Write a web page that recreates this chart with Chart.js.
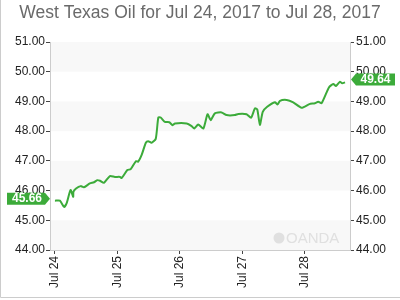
<!DOCTYPE html>
<html>
<head>
<meta charset="utf-8">
<script src="https://cdn.jsdelivr.net/npm/chart.js@4/dist/chart.umd.min.js"></script>
<style>
    html, body { margin: 0; padding: 0; background: #fff; }
    #wrap { width: 400px; height: 300px; }
</style>
</head>
<body>
<div id="wrap"><canvas id="oil-chart" width="400" height="300"></canvas></div>
<script>
const TITLE = 'West Texas Oil for Jul 24, 2017 to Jul 28, 2017';

// hours since Jul 24 00:00
const hours = [0, 1.9, 3.5, 4.5, 6.0, 7.0, 7.1, 8.1, 9.9, 11.1, 13.4, 15.0, 16.2, 17.3, 18.8,
    21.1, 23.0, 25.0, 25.6, 27.8, 29.1, 31.1, 31.9, 33.3, 34.9, 35.8, 37.1, 38.7, 39.7, 40.6,
    42.2, 43.9, 45.2, 46.1, 50.6, 52.5, 53.5, 55.0, 57.0, 58.6, 59.8, 61.4, 64.0, 65.9, 69.1,
    70.4, 73.6, 75.3, 76.8, 77.7, 78.7, 79.8, 81.5, 84.5, 85.5, 86.4, 89.0, 91.5, 94.7, 97.7,
    99.8, 101.1, 102.4, 105.2, 106.9, 107.9, 109.4, 110.3, 111.4];

const prices = [45.66, 45.66, 45.45, 45.58, 46.02, 45.79, 45.96, 46.07, 46.15, 46.11, 46.24, 46.28, 46.35, 46.33, 46.26,
    46.49, 46.46, 46.46, 46.42, 46.69, 46.72, 46.99, 46.97, 47.20, 47.61, 47.66, 47.61, 47.74, 48.46, 48.46,
    48.31, 48.30, 48.20, 48.26, 48.26, 48.17, 48.09, 48.22, 48.09, 48.57, 48.37, 48.60, 48.63, 48.54, 48.54,
    48.58, 48.57, 48.45, 48.77, 48.73, 48.21, 48.65, 48.82, 48.97, 48.90, 49.02, 49.05, 48.97, 48.79, 48.91,
    48.94, 48.99, 48.94, 49.47, 49.59, 49.52, 49.66, 49.61, 49.64];

const dayTicks = [0, 24, 48, 72, 96];
const dayLabels = ['Jul 24', 'Jul 25', 'Jul 26', 'Jul 27', 'Jul 28'];

const GREEN = '#3cab3a';
const FONT = '"Liberation Sans", Arial, sans-serif';


const decorPlugin = {
    id: 'decor',
    beforeDraw(chart) {
        const ctx = chart.ctx;
        const area = chart.chartArea;
        const y = chart.scales.y;
        ctx.save();
        // alternating bands
        ctx.fillStyle = '#f8f8f8';
        for (let v = 44; v < 51; v += 2) {
            const top = y.getPixelForValue(v + 1);
            const bot = y.getPixelForValue(v);
            ctx.fillRect(area.left, top, area.right - area.left, bot - top);
        }
        // frame
        ctx.strokeStyle = '#cccccc';
        ctx.lineWidth = 1;
        ctx.beginPath();
        ctx.moveTo(0.5, 0);
        ctx.lineTo(0.5, 297.5);
        ctx.lineTo(400, 297.5);
        ctx.stroke();
        // title
        ctx.fillStyle = '#6a6a6a';
        ctx.font = '17.5px ' + FONT;
        ctx.textAlign = 'center';
        ctx.textBaseline = 'middle';
        ctx.fillText(TITLE, 200, 13);
        // watermark
        ctx.fillStyle = '#e0e0e0';
        ctx.beginPath();
        ctx.arc(279, 238, 5.5, 0, Math.PI * 2);
        ctx.fill();
        ctx.font = '15px ' + FONT;
        ctx.textAlign = 'left';
        ctx.fillText('OANDA', 286, 239);
        ctx.restore();
    },
    afterDraw(chart) {
        const ctx = chart.ctx;
        const y = chart.scales.y;
        const first = prices[0];
        const last = prices[prices.length - 1];
        ctx.save();
        ctx.fillStyle = GREEN;

        // left tag, pointing right
        let cy = y.getPixelForValue(first) - 2;
        ctx.beginPath();
        ctx.moveTo(7, cy - 6);
        ctx.lineTo(45, cy - 6);
        ctx.lineTo(50, cy);
        ctx.lineTo(45, cy + 6);
        ctx.lineTo(7, cy + 6);
        ctx.closePath();
        ctx.fill();

        // right tag, pointing left
        let cy2 = y.getPixelForValue(last) - 3;
        ctx.beginPath();
        ctx.moveTo(351, cy2);
        ctx.lineTo(356, cy2 - 6);
        ctx.lineTo(395, cy2 - 6);
        ctx.lineTo(395, cy2 + 6);
        ctx.lineTo(356, cy2 + 6);
        ctx.closePath();
        ctx.fill();

        ctx.fillStyle = '#ffffff';
        ctx.font = 'bold 12px ' + FONT;
        ctx.textAlign = 'center';
        ctx.textBaseline = 'middle';
        ctx.fillText(first.toFixed(2), 27, cy + 0.5);
        ctx.fillText(last.toFixed(2), 375.5, cy2 + 0.5);
        ctx.restore();
    }
};


function yAxis(position, width) {
    return {
        type: 'linear',
        position: position,
        min: 44,
        max: 51,
        ticks: {
            stepSize: 1,
            color: '#222',
            font: { family: FONT, size: 12 },
            padding: position === 'left' ? 1 : 2,
            callback: v => v.toFixed(2)
        },
        grid: {
            drawOnChartArea: false,
            tickLength: 4,
            tickColor: '#444'
        },
        border: { color: '#cccccc' },
        afterFit: scale => { scale.width = width; }
    };
}


new Chart(document.getElementById('oil-chart'), {
    type: 'line',
    data: {
        datasets: [{
            data: hours.map((h, i) => ({ x: h, y: prices[i] })),
            borderColor: GREEN,
            borderWidth: 2,
            pointRadius: 0,
            tension: 0.2,
            fill: false
        }]
    },
    options: {
        responsive: false,
        animation: false,
        devicePixelRatio: 1,
        layout: { padding: { top: 42, left: 0, right: 0, bottom: 0 } },
        plugins: {
            legend: { display: false },
            tooltip: { enabled: false },
            title: { display: false }
        },
        scales: {
            x: {
                type: 'linear',
                min: -1.9,
                max: 113.3,
                afterBuildTicks: scale => {
                    scale.ticks = dayTicks.map(v => ({ value: v }));
                },
                ticks: {
                    autoSkip: false,
                    minRotation: 90,
                    maxRotation: 90,
                    color: '#222',
                    padding: 2,
                    font: { family: FONT, size: 12 },
                    callback: v => dayLabels[dayTicks.indexOf(v)] || ''
                },
                grid: {
                    drawOnChartArea: false,
                    tickLength: 4,
                    tickColor: '#444'
                },
                border: { color: '#cccccc' },
                afterFit: scale => { scale.height = 50; }
            },
            y: yAxis('left', 50),
            y2: yAxis('right', 50)
        }
    },
    plugins: [decorPlugin]
});
</script>
</body>
</html>
